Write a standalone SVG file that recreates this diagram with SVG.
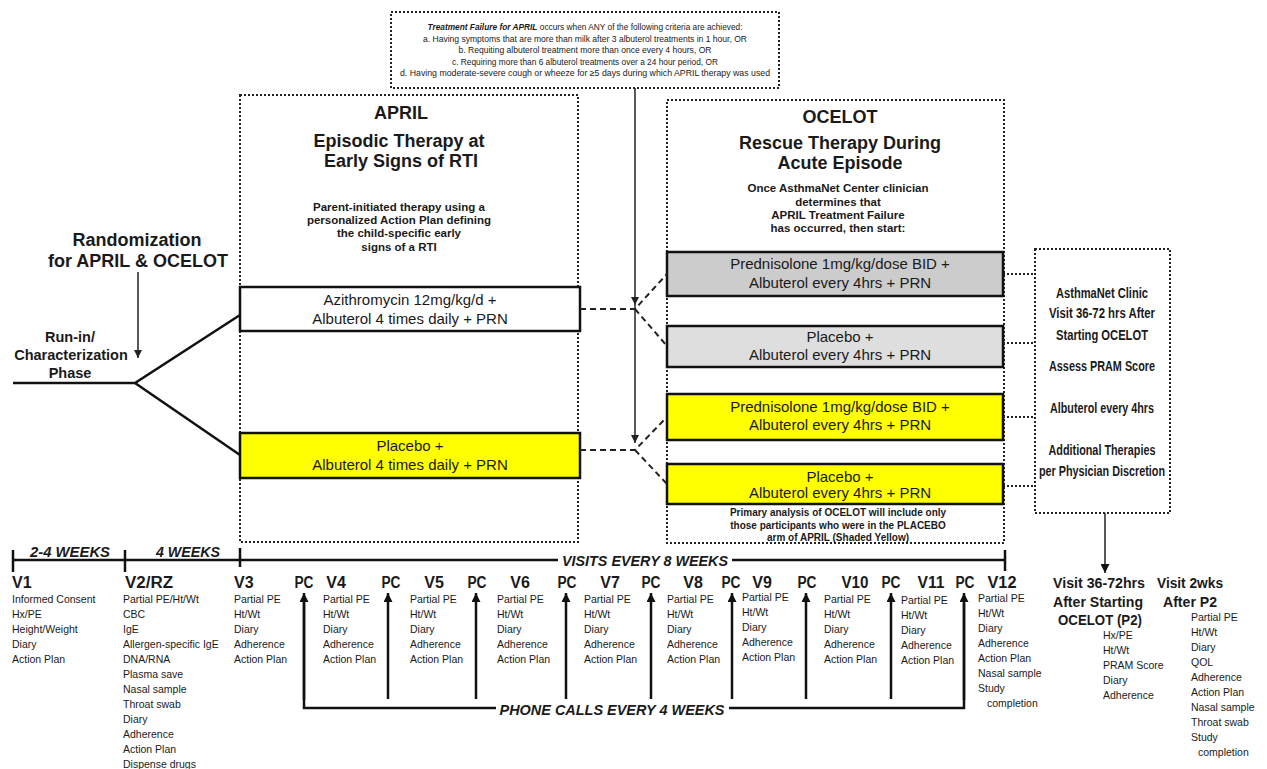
<svg xmlns="http://www.w3.org/2000/svg" width="1267" height="769" viewBox="0 0 1267 769">
<defs>
<style>
text{font-family:"Liberation Sans",Arial,sans-serif;fill:#1a1a1a}
.dot{fill:none;stroke:#222;stroke-width:2;stroke-dasharray:2 2}
.dash{fill:none;stroke:#222;stroke-width:2;stroke-dasharray:6 4}
.box{stroke:#111;stroke-width:2.5}
.ln{stroke:#111;stroke-width:2.5;fill:none}
.thin{stroke:#222;stroke-width:1.5;fill:none}
.bt{font-size:15px;text-anchor:middle}
.h18{font-size:18px;font-weight:bold;text-anchor:middle}
.b115{font-size:11.5px;font-weight:bold;text-anchor:middle}
.b10{font-size:10px;font-weight:bold;text-anchor:middle}
.top9{font-size:9px;text-anchor:middle}
.rb{font-size:14px;font-weight:bold;text-anchor:middle}
.vl{font-size:16px;font-weight:bold}
.vc{font-size:16px;font-weight:bold;text-anchor:middle}
.wk{font-size:15px;font-weight:bold;font-style:italic;text-anchor:middle}
.li{font-size:10.5px}
.p2{font-size:14px;font-weight:bold;text-anchor:middle}
</style>
<marker id="ah" viewBox="0 0 10 10" refX="10" refY="5" markerWidth="11" markerHeight="9" markerUnits="userSpaceOnUse" orient="auto"><path d="M0,0 L10,5 L0,10 z" fill="#111"/></marker>
<marker id="ahs" viewBox="0 0 10 10" refX="10" refY="5" markerWidth="11" markerHeight="8" markerUnits="userSpaceOnUse" orient="auto"><path d="M0,0 L10,5 L0,10 z" fill="#222"/></marker>
</defs>
<rect width="1267" height="769" fill="#fff"/>

<g id="criteria">
<rect class="dot" x="391" y="12" width="388" height="76"/>
<text class="top9" x="585" y="30" textLength="315" lengthAdjust="spacingAndGlyphs"><tspan font-weight="bold" font-style="italic">Treatment Failure for APRIL</tspan> occurs when ANY of the following criteria are achieved:</text>
<text class="top9" x="585" y="41.5" textLength="324" lengthAdjust="spacingAndGlyphs">a.  Having symptoms that are more than milk after 3 albuterol treatments in 1 hour, OR</text>
<text class="top9" x="585" y="53" textLength="253" lengthAdjust="spacingAndGlyphs">b.  Requiting albuterol treatment more than once every 4 hours, OR</text>
<text class="top9" x="585" y="64.5" textLength="266" lengthAdjust="spacingAndGlyphs">c.  Requiring more than 6 albuterol treatments over a 24 hour period, OR</text>
<text class="top9" x="585" y="76" textLength="370" lengthAdjust="spacingAndGlyphs">d.  Having moderate-severe cough or wheeze for ≥5 days during which APRIL therapy was used</text>
</g>

<g id="april">
<rect class="dot" x="240" y="95" width="338" height="447"/>
<text class="h18" x="401" y="119">APRIL</text>
<text class="h18" x="399" y="147">Episodic Therapy at</text>
<text class="h18" x="401" y="167">Early Signs of RTI</text>
<text class="b115" x="399" y="211">Parent-initiated therapy using a</text>
<text class="b115" x="399" y="224">personalized Action Plan defining</text>
<text class="b115" x="399" y="237">the child-specific early</text>
<text class="b115" x="399" y="251">signs of a RTI</text>
</g>

<g id="april-azithro">
<rect class="box" x="240" y="287" width="340" height="44" fill="#fff"/>
<text class="bt" x="410" y="305">Azithromycin 12mg/kg/d +</text>
<text class="bt" x="410" y="324">Albuterol 4 times daily + PRN</text>
</g>
<g id="april-placebo">
<rect class="box" x="240" y="433" width="340" height="45" fill="#ffff00"/>
<text class="bt" x="410" y="451">Placebo +</text>
<text class="bt" x="410" y="470">Albuterol 4 times daily + PRN</text>
</g>

<g id="ocelot">
<rect class="dot" x="667" y="100" width="337" height="443"/>
<text class="h18" x="840" y="123">OCELOT</text>
<text class="h18" x="840" y="149">Rescue Therapy During</text>
<text class="h18" x="840" y="169">Acute Episode</text>
<text class="b115" x="838" y="192">Once AsthmaNet Center clinician</text>
<text class="b115" x="838" y="206">determines that</text>
<text class="b115" x="838" y="219">APRIL Treatment Failure</text>
<text class="b115" x="838" y="232">has occurred, then start:</text>
<text class="b10" x="838" y="515.5">Primary analysis of OCELOT will include only</text>
<text class="b10" x="838" y="528.5">those participants who were in the PLACEBO</text>
<text class="b10" x="838" y="540.5">arm of APRIL (Shaded Yellow)</text>
</g>

<g id="ocelot-1">
<rect class="box" x="667" y="252" width="336" height="44" fill="#cccccc"/>
<text class="bt" x="840" y="269">Prednisolone 1mg/kg/dose BID +</text>
<text class="bt" x="840" y="288">Albuterol every 4hrs + PRN</text>
</g>
<g id="ocelot-2">
<rect class="box" x="667" y="326" width="336" height="41" fill="#dedede"/>
<text class="bt" x="840" y="342">Placebo +</text>
<text class="bt" x="840" y="360">Albuterol every 4hrs + PRN</text>
</g>
<g id="ocelot-3">
<rect class="box" x="667" y="394" width="336" height="46" fill="#ffff00"/>
<text class="bt" x="840" y="412">Prednisolone 1mg/kg/dose BID +</text>
<text class="bt" x="840" y="430">Albuterol every 4hrs + PRN</text>
</g>
<g id="ocelot-4">
<rect class="box" x="667" y="464" width="336" height="40" fill="#ffff00"/>
<text class="bt" x="840" y="482">Placebo +</text>
<text class="bt" x="840" y="498">Albuterol every 4hrs + PRN</text>
</g>

<g id="clinic-visit">
<rect class="dot" x="1035" y="249" width="135" height="264"/>
<text class="rb" x="1102" y="298" textLength="92" lengthAdjust="spacingAndGlyphs">AsthmaNet Clinic</text>
<text class="rb" x="1102" y="318" textLength="106" lengthAdjust="spacingAndGlyphs">Visit 36-72 hrs After</text>
<text class="rb" x="1102" y="340" textLength="92" lengthAdjust="spacingAndGlyphs">Starting OCELOT</text>
<text class="rb" x="1102" y="371" textLength="106" lengthAdjust="spacingAndGlyphs">Assess PRAM Score</text>
<text class="rb" x="1102" y="413" textLength="104" lengthAdjust="spacingAndGlyphs">Albuterol every 4hrs</text>
<text class="rb" x="1102" y="455" textLength="107" lengthAdjust="spacingAndGlyphs">Additional Therapies</text>
<text class="rb" x="1102" y="476" textLength="126" lengthAdjust="spacingAndGlyphs">per Physician Discretion</text>
</g>

<g id="randomization">
<text class="h18" x="137" y="246">Randomization</text>
<text class="h18" x="138" y="267">for APRIL &amp; OCELOT</text>
<text font-size="14.5" font-weight="bold" text-anchor="middle" x="70" y="342">Run-in/</text>
<text font-size="14.5" font-weight="bold" text-anchor="middle" x="71" y="360">Characterization</text>
<text font-size="14.5" font-weight="bold" text-anchor="middle" x="70" y="378">Phase</text>
</g>

<g id="connectors">
<line class="thin" x1="138" y1="272" x2="138" y2="358" marker-end="url(#ahs)"/>
<polyline class="ln" points="13,383 135,383 240,315"/>
<line class="ln" x1="135" y1="383" x2="240" y2="455"/>
<line class="thin" x1="635" y1="88" x2="635" y2="305" marker-end="url(#ahs)"/>
<line class="thin" x1="635" y1="305" x2="635" y2="443" marker-end="url(#ahs)"/>
<polyline class="dash" points="580,309 635,309 667,274"/>
<line class="dash" x1="635" y1="309" x2="667" y2="346"/>
<polyline class="dash" points="580,450 635,450 667,417"/>
<line class="dash" x1="635" y1="450" x2="667" y2="484"/>
<line class="dot" x1="1003" y1="274" x2="1035" y2="274"/>
<line class="dot" x1="1003" y1="343" x2="1035" y2="343"/>
<line class="dot" x1="1003" y1="417" x2="1035" y2="417"/>
<line class="dot" x1="1003" y1="486" x2="1035" y2="486"/>
<line class="thin" x1="1105" y1="513" x2="1105" y2="573" marker-end="url(#ah)"/>
<line class="ln" x1="13" y1="560" x2="558" y2="560"/>
<line class="ln" x1="732" y1="560" x2="1005" y2="560"/>
<line class="ln" x1="13" y1="550" x2="13" y2="572"/>
<line class="ln" x1="125" y1="550" x2="125" y2="572"/>
<line class="ln" x1="240" y1="548" x2="240" y2="567"/>
<line class="ln" x1="1005" y1="550" x2="1005" y2="571"/>
<polyline class="ln" points="304,603 304,708 496,708"/>
<polyline class="ln" points="729,708 964,708 964,603"/>
<line class="ln" x1="304" y1="700" x2="304" y2="593" marker-end="url(#ah)"/>
<line class="ln" x1="964" y1="700" x2="964" y2="593" marker-end="url(#ah)"/>
<line class="ln" x1="388" y1="699" x2="388" y2="593" marker-end="url(#ah)"/>
<line class="ln" x1="476" y1="699" x2="476" y2="593" marker-end="url(#ah)"/>
<line class="ln" x1="566" y1="699" x2="566" y2="593" marker-end="url(#ah)"/>
<line class="ln" x1="651" y1="699" x2="651" y2="593" marker-end="url(#ah)"/>
<line class="ln" x1="732" y1="699" x2="732" y2="593" marker-end="url(#ah)"/>
<line class="ln" x1="806" y1="699" x2="806" y2="593" marker-end="url(#ah)"/>
<line class="ln" x1="891" y1="699" x2="891" y2="593" marker-end="url(#ah)"/>
</g>

<g id="timeline-labels">
<text class="wk" x="70" y="556.5" textLength="80" lengthAdjust="spacingAndGlyphs">2-4 WEEKS</text>
<text class="wk" x="188" y="556.5" textLength="64" lengthAdjust="spacingAndGlyphs">4 WEEKS</text>
<text class="wk" x="645" y="565.5" textLength="166" lengthAdjust="spacingAndGlyphs">VISITS EVERY 8 WEEKS</text>
<text class="wk" x="612" y="714.5" textLength="225" lengthAdjust="spacingAndGlyphs">PHONE CALLS EVERY 4 WEEKS</text>
</g>

<g id="visit-labels">
<text class="vl" x="12" y="588">V1</text>
<text class="vl" x="125" y="588" textLength="48" lengthAdjust="spacingAndGlyphs">V2/RZ</text>
<text class="vl" x="234" y="588">V3</text>
<text class="vc" x="336" y="588">V4</text>
<text class="vc" x="434" y="588">V5</text>
<text class="vc" x="520" y="588">V6</text>
<text class="vc" x="610" y="588">V7</text>
<text class="vc" x="693" y="588">V8</text>
<text class="vc" x="762" y="588">V9</text>
<text class="vc" x="855" y="588" textLength="27" lengthAdjust="spacingAndGlyphs">V10</text>
<text class="vc" x="931" y="588" textLength="27" lengthAdjust="spacingAndGlyphs">V11</text>
<text class="vc" x="1002" y="588" textLength="29" lengthAdjust="spacingAndGlyphs">V12</text>
<text class="vc" x="304" y="588" textLength="19" lengthAdjust="spacingAndGlyphs">PC</text>
<text class="vc" x="391" y="588" textLength="19" lengthAdjust="spacingAndGlyphs">PC</text>
<text class="vc" x="477" y="588" textLength="19" lengthAdjust="spacingAndGlyphs">PC</text>
<text class="vc" x="567" y="588" textLength="19" lengthAdjust="spacingAndGlyphs">PC</text>
<text class="vc" x="651" y="588" textLength="19" lengthAdjust="spacingAndGlyphs">PC</text>
<text class="vc" x="731" y="588" textLength="19" lengthAdjust="spacingAndGlyphs">PC</text>
<text class="vc" x="807" y="588" textLength="19" lengthAdjust="spacingAndGlyphs">PC</text>
<text class="vc" x="891" y="588" textLength="19" lengthAdjust="spacingAndGlyphs">PC</text>
<text class="vc" x="965" y="588" textLength="19" lengthAdjust="spacingAndGlyphs">PC</text>
</g>

<g id="visit-lists">
<text class="li" x="12" y="602.5">Informed Consent<tspan x="12" dy="15">Hx/PE</tspan><tspan x="12" dy="15">Height/Weight</tspan><tspan x="12" dy="15">Diary</tspan><tspan x="12" dy="15">Action Plan</tspan></text>
<text class="li" x="123" y="602.5">Partial PE/Ht/Wt<tspan x="123" dy="15">CBC</tspan><tspan x="123" dy="15">IgE</tspan><tspan x="123" dy="15">Allergen-specific IgE</tspan><tspan x="123" dy="15">DNA/RNA</tspan><tspan x="123" dy="15">Plasma save</tspan><tspan x="123" dy="15">Nasal sample</tspan><tspan x="123" dy="15">Throat swab</tspan><tspan x="123" dy="15">Diary</tspan><tspan x="123" dy="15">Adherence</tspan><tspan x="123" dy="15">Action Plan</tspan><tspan x="123" dy="15">Dispense drugs</tspan></text>
<text class="li" x="234" y="602.5">Partial PE<tspan x="234" dy="15">Ht/Wt</tspan><tspan x="234" dy="15">Diary</tspan><tspan x="234" dy="15">Adherence</tspan><tspan x="234" dy="15">Action Plan</tspan></text>
<text class="li" x="323" y="602.5">Partial PE<tspan x="323" dy="15">Ht/Wt</tspan><tspan x="323" dy="15">Diary</tspan><tspan x="323" dy="15">Adherence</tspan><tspan x="323" dy="15">Action Plan</tspan></text>
<text class="li" x="410" y="602.5">Partial PE<tspan x="410" dy="15">Ht/Wt</tspan><tspan x="410" dy="15">Diary</tspan><tspan x="410" dy="15">Adherence</tspan><tspan x="410" dy="15">Action Plan</tspan></text>
<text class="li" x="497" y="602.5">Partial PE<tspan x="497" dy="15">Ht/Wt</tspan><tspan x="497" dy="15">Diary</tspan><tspan x="497" dy="15">Adherence</tspan><tspan x="497" dy="15">Action Plan</tspan></text>
<text class="li" x="584" y="602.5">Partial PE<tspan x="584" dy="15">Ht/Wt</tspan><tspan x="584" dy="15">Diary</tspan><tspan x="584" dy="15">Adherence</tspan><tspan x="584" dy="15">Action Plan</tspan></text>
<text class="li" x="667" y="602.5">Partial PE<tspan x="667" dy="15">Ht/Wt</tspan><tspan x="667" dy="15">Diary</tspan><tspan x="667" dy="15">Adherence</tspan><tspan x="667" dy="15">Action Plan</tspan></text>
<text class="li" x="742" y="601">Partial PE<tspan x="742" dy="15">Ht/Wt</tspan><tspan x="742" dy="15">Diary</tspan><tspan x="742" dy="15">Adherence</tspan><tspan x="742" dy="15">Action Plan</tspan></text>
<text class="li" x="824" y="602.5">Partial PE<tspan x="824" dy="15">Ht/Wt</tspan><tspan x="824" dy="15">Diary</tspan><tspan x="824" dy="15">Adherence</tspan><tspan x="824" dy="15">Action Plan</tspan></text>
<text class="li" x="901" y="603.5">Partial PE<tspan x="901" dy="15">Ht/Wt</tspan><tspan x="901" dy="15">Diary</tspan><tspan x="901" dy="15">Adherence</tspan><tspan x="901" dy="15">Action Plan</tspan></text>
<text class="li" x="978" y="602">Partial PE<tspan x="978" dy="15">Ht/Wt</tspan><tspan x="978" dy="15">Diary</tspan><tspan x="978" dy="15">Adherence</tspan><tspan x="978" dy="15">Action Plan</tspan><tspan x="978" dy="15">Nasal sample</tspan><tspan x="978" dy="15">Study</tspan><tspan x="987" dy="15">completion</tspan></text>
</g>

<g id="visit-p2">
<text class="p2" x="1099" y="588" textLength="92" lengthAdjust="spacingAndGlyphs">Visit 36-72hrs</text>
<text class="p2" x="1098" y="607" textLength="90" lengthAdjust="spacingAndGlyphs">After Starting</text>
<text class="p2" x="1100" y="625" textLength="84" lengthAdjust="spacingAndGlyphs">OCELOT (P2)</text>
<text class="li" x="1103" y="639">Hx/PE<tspan x="1103" dy="15">Ht/Wt</tspan><tspan x="1103" dy="15">PRAM Score</tspan><tspan x="1103" dy="15">Diary</tspan><tspan x="1103" dy="15">Adherence</tspan></text>
</g>
<g id="visit-2wks">
<text class="p2" x="1190" y="588" textLength="66" lengthAdjust="spacingAndGlyphs">Visit 2wks</text>
<text class="p2" x="1190" y="607" textLength="54" lengthAdjust="spacingAndGlyphs">After P2</text>
<text class="li" x="1191" y="621">Partial PE<tspan x="1191" dy="15">Ht/Wt</tspan><tspan x="1191" dy="15">Diary</tspan><tspan x="1191" dy="15">QOL</tspan><tspan x="1191" dy="15">Adherence</tspan><tspan x="1191" dy="15">Action Plan</tspan><tspan x="1191" dy="15">Nasal sample</tspan><tspan x="1191" dy="15">Throat swab</tspan><tspan x="1191" dy="15">Study</tspan><tspan x="1198" dy="15">completion</tspan></text>
</g>
</svg>
